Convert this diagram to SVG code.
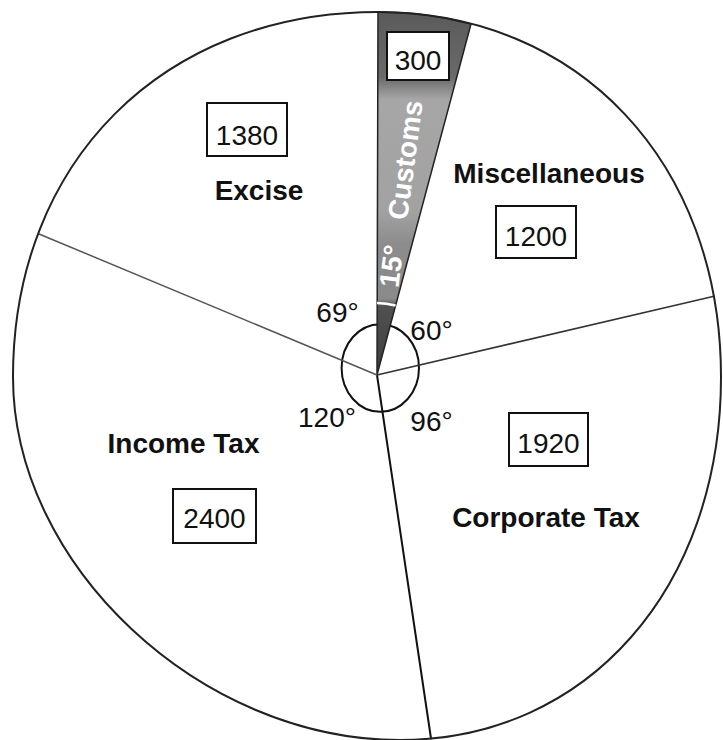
<svg xmlns="http://www.w3.org/2000/svg" width="723" height="740" viewBox="0 0 723 740">
  <style>
    .box { fill: #ffffff; stroke: #111111; stroke-width: 2; }
    .num { font-family: "Liberation Sans", Arial, sans-serif; font-size: 28px; fill: #111111; text-anchor: middle; }
    .lbl { font-family: "Liberation Sans", Arial, sans-serif; font-size: 28px; font-weight: bold; fill: #111111; text-anchor: middle; }
    .deg { font-family: "Liberation Sans", Arial, sans-serif; font-size: 28px; fill: #111111; text-anchor: middle; }
    .wlbl { font-family: "Liberation Sans", Arial, sans-serif; font-size: 28px; font-weight: bold; fill: #ffffff; text-anchor: middle; }
    .ray { fill: none; stroke-linecap: round; }
    .rim { fill: none; stroke: #222222; stroke-width: 2; }
  </style>
  <defs>
    <linearGradient id="customsFill" gradientUnits="userSpaceOnUse" x1="0" y1="12" x2="0" y2="375">
      <stop offset="0" stop-color="#5a5a5a"/>
      <stop offset="0.18" stop-color="#6a6a6a"/>
      <stop offset="0.24" stop-color="#a6a6a6"/>
      <stop offset="0.55" stop-color="#a2a2a2"/>
      <stop offset="0.64" stop-color="#8c8c8c"/>
      <stop offset="0.79" stop-color="#8a8a8a"/>
      <stop offset="0.81" stop-color="#505050"/>
      <stop offset="1" stop-color="#3e3e3e"/>
    </linearGradient>
  </defs>
  <rect x="0" y="0" width="723" height="740" fill="#ffffff"/>

  <!-- angle marker ellipse (under the customs wedge) -->
  <ellipse cx="380.3" cy="368" rx="38.7" ry="43.8" fill="none" stroke="#111111" stroke-width="2"/>

  <!-- Customs wedge -->
  <g id="customs">
    <path d="M377,375 L378,12 Q425,11.6 471,24 Z" fill="url(#customsFill)" stroke="#222222" stroke-width="1.5" stroke-linejoin="round"/>
    <path d="M377,303 A72,72 0 0 1 395.6,305.5" fill="none" stroke="#ffffff" stroke-width="2.5"/>
    <text class="wlbl" transform="translate(405,160) rotate(-82.5)" x="0" y="10">Customs</text>
    <text class="wlbl" transform="translate(391,266) rotate(-82.5)" x="0" y="10">15°</text>
    <rect class="box" x="387" y="32" width="62" height="48"/>
    <text class="num" x="418" y="70">300</text>
  </g>

  <!-- connectors: radial slice boundaries -->
  <g id="connectors">
    <line class="ray" x1="377" y1="375" x2="714" y2="296.3" stroke="#333333" stroke-width="1.6"/>
    <line class="ray" x1="377" y1="375" x2="431" y2="738.5" stroke="#111111" stroke-width="2"/>
    <line class="ray" x1="377" y1="375" x2="38.4" y2="233.7" stroke="#555555" stroke-width="1.5"/>
  </g>

  <!-- outer rim -->
  <path id="rim" class="rim" d="M13,377 C13,162 163,12 378,12 C578,12 721,162 721,377 C721,587 588,740 400,740 C200,740 13,565 13,377 Z"/>

  <g id="excise">
    <rect class="box" x="207" y="103" width="80" height="53"/>
    <text class="num" x="247" y="145">1380</text>
    <text class="lbl" x="259" y="200">Excise</text>
    <text class="deg" x="337.5" y="322">69°</text>
  </g>

  <g id="miscellaneous">
    <text class="lbl" x="549" y="183">Miscellaneous</text>
    <rect class="box" x="496" y="206" width="80" height="52"/>
    <text class="num" x="536" y="246">1200</text>
    <text class="deg" x="431.5" y="340">60°</text>
  </g>

  <g id="corporate-tax">
    <rect class="box" x="509" y="413" width="79" height="53"/>
    <text class="num" x="548.5" y="453">1920</text>
    <text class="lbl" x="546" y="527">Corporate Tax</text>
    <text class="deg" x="431.5" y="431">96°</text>
  </g>

  <g id="income-tax">
    <text class="lbl" x="183.5" y="453">Income Tax</text>
    <rect class="box" x="173" y="489" width="83" height="54"/>
    <text class="num" x="214.5" y="528">2400</text>
    <text class="deg" x="327" y="427">120°</text>
  </g>
</svg>
